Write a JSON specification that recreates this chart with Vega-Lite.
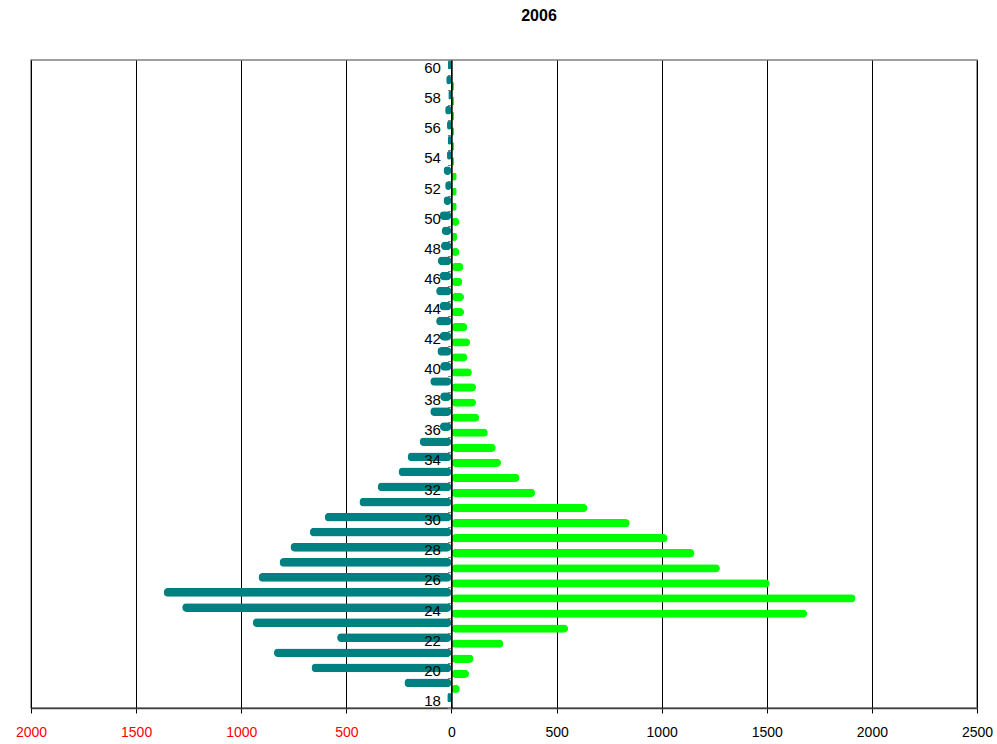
{
  "$schema": "https://vega.github.io/schema/vega-lite/v6.json",
  "width": 946,
  "height": 648,
  "autosize": {"type": "none"},
  "padding": {"left": 31, "top": 60, "right": 20, "bottom": 36},
  "background": "white",
  "title": {"text": "2006", "fontSize": 16, "fontWeight": "bold", "font": "Liberation Sans", "color": "black", "anchor": "middle", "frame": "group", "dx": 35, "offset": 29},
  "data": {"values": [
    {"age": 60, "series": "teal", "value": -18}, {"age": 60, "series": "green", "value": 0},
    {"age": 59, "series": "teal", "value": -25}, {"age": 59, "series": "green", "value": 13},
    {"age": 58, "series": "teal", "value": -15}, {"age": 58, "series": "green", "value": 13},
    {"age": 57, "series": "teal", "value": -30}, {"age": 57, "series": "green", "value": 13},
    {"age": 56, "series": "teal", "value": -21}, {"age": 56, "series": "green", "value": 13},
    {"age": 55, "series": "teal", "value": -18}, {"age": 55, "series": "green", "value": 13},
    {"age": 54, "series": "teal", "value": -21}, {"age": 54, "series": "green", "value": 13},
    {"age": 53, "series": "teal", "value": -38}, {"age": 53, "series": "green", "value": 25},
    {"age": 52, "series": "teal", "value": -30}, {"age": 52, "series": "green", "value": 25},
    {"age": 51, "series": "teal", "value": -38}, {"age": 51, "series": "green", "value": 25},
    {"age": 50, "series": "teal", "value": -57}, {"age": 50, "series": "green", "value": 37},
    {"age": 49, "series": "teal", "value": -47}, {"age": 49, "series": "green", "value": 28},
    {"age": 48, "series": "teal", "value": -50}, {"age": 48, "series": "green", "value": 37},
    {"age": 47, "series": "teal", "value": -65}, {"age": 47, "series": "green", "value": 57},
    {"age": 46, "series": "teal", "value": -57}, {"age": 46, "series": "green", "value": 52},
    {"age": 45, "series": "teal", "value": -73}, {"age": 45, "series": "green", "value": 60},
    {"age": 44, "series": "teal", "value": -57}, {"age": 44, "series": "green", "value": 60},
    {"age": 43, "series": "teal", "value": -73}, {"age": 43, "series": "green", "value": 76},
    {"age": 42, "series": "teal", "value": -57}, {"age": 42, "series": "green", "value": 89},
    {"age": 41, "series": "teal", "value": -67}, {"age": 41, "series": "green", "value": 76},
    {"age": 40, "series": "teal", "value": -54}, {"age": 40, "series": "green", "value": 97},
    {"age": 39, "series": "teal", "value": -101}, {"age": 39, "series": "green", "value": 117},
    {"age": 38, "series": "teal", "value": -54}, {"age": 38, "series": "green", "value": 117},
    {"age": 37, "series": "teal", "value": -101}, {"age": 37, "series": "green", "value": 132},
    {"age": 36, "series": "teal", "value": -55}, {"age": 36, "series": "green", "value": 173},
    {"age": 35, "series": "teal", "value": -152}, {"age": 35, "series": "green", "value": 211},
    {"age": 34, "series": "teal", "value": -209}, {"age": 34, "series": "green", "value": 236},
    {"age": 33, "series": "teal", "value": -252}, {"age": 33, "series": "green", "value": 324},
    {"age": 32, "series": "teal", "value": -351}, {"age": 32, "series": "green", "value": 398},
    {"age": 31, "series": "teal", "value": -438}, {"age": 31, "series": "green", "value": 647},
    {"age": 30, "series": "teal", "value": -603}, {"age": 30, "series": "green", "value": 848},
    {"age": 29, "series": "teal", "value": -674}, {"age": 29, "series": "green", "value": 1028},
    {"age": 28, "series": "teal", "value": -766}, {"age": 28, "series": "green", "value": 1156},
    {"age": 27, "series": "teal", "value": -818}, {"age": 27, "series": "green", "value": 1277},
    {"age": 26, "series": "teal", "value": -918}, {"age": 26, "series": "green", "value": 1514},
    {"age": 25, "series": "teal", "value": -1369}, {"age": 25, "series": "green", "value": 1922},
    {"age": 24, "series": "teal", "value": -1281}, {"age": 24, "series": "green", "value": 1692},
    {"age": 23, "series": "teal", "value": -945}, {"age": 23, "series": "green", "value": 555},
    {"age": 22, "series": "teal", "value": -544}, {"age": 22, "series": "green", "value": 247},
    {"age": 21, "series": "teal", "value": -845}, {"age": 21, "series": "green", "value": 105},
    {"age": 20, "series": "teal", "value": -666}, {"age": 20, "series": "green", "value": 84},
    {"age": 19, "series": "teal", "value": -224}, {"age": 19, "series": "green", "value": 40},
    {"age": 18, "series": "teal", "value": -20}, {"age": 18, "series": "green", "value": 0}
  ]},
  "encoding": {
    "y": {
      "field": "age", "type": "ordinal", "sort": "descending",
      "scale": {"paddingInner": 0, "paddingOuter": 0},
      "axis": {
        "orient": "left", "offset": -420.44, "title": null,
        "labelExpr": "datum.value % 2 == 0 ? datum.label : ''",
        "labelFont": "Liberation Sans", "labelFontSize": 15, "labelColor": "black", "labelPadding": 7,
        "domainColor": "black", "domainWidth": 1.5,
        "ticks": true, "tickSize": 4, "tickColor": "#808080", "tickBand": "extent",
        "grid": false, "zindex": 1
      }
    },
    "x": {
      "field": "value", "type": "quantitative",
      "scale": {"domain": [-2000, 2500], "nice": false, "zero": false},
      "axis": {
        "values": [-2000, -1500, -1000, -500, 0, 500, 1000, 1500, 2000, 2500],
        "labelExpr": "abs(datum.value)",
        "labelColor": {"condition": {"test": "datum.value < 0", "value": "red"}, "value": "black"},
        "labelFont": "Liberation Sans", "labelFontSize": 14, "labelPadding": 12, "labelFlush": false,
        "grid": true, "gridColor": "black", "gridOpacity": 1, "gridWidth": 1,
        "ticks": true, "tickSize": 5, "tickColor": "black",
        "domainColor": "#404040", "domainWidth": 1.5,
        "title": null
      }
    },
    "color": {"field": "series", "type": "nominal", "scale": {"domain": ["teal", "green"], "range": ["#008080", "#00FF00"]}, "legend": null}
  },
  "layer": [
    {
      "transform": [{"filter": "datum.series == 'teal'"}],
      "mark": {"type": "bar", "cornerRadius": 4.3, "height": {"band": 0.58}, "yOffset": -2.5}
    },
    {
      "transform": [{"filter": "datum.series == 'green'"}],
      "mark": {"type": "bar", "cornerRadius": 4.3, "height": {"band": 0.55}, "yOffset": 3.5}
    }
  ],
  "config": {"view": {"stroke": "#808080", "strokeWidth": 1.5}}
}
